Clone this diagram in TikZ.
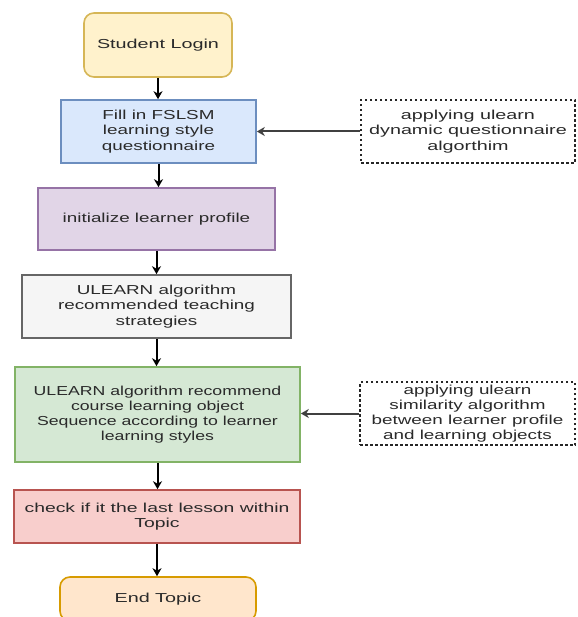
\documentclass[tikz,border=0pt]{standalone}
\usepackage{fontspec}
\setmainfont{Liberation Sans}[FakeStretch=1.45]
\newfontfamily\fnarrow{Liberation Sans}[FakeStretch=1.36]
\newfontfamily\fwide{Liberation Sans}[FakeStretch=1.52]
\newfontfamily\fcheck{Liberation Sans}[FakeStretch=1.49]
\usetikzlibrary{arrows.meta}
\definecolor{txt}{HTML}{2A2A2A}
\definecolor{yfill}{HTML}{FFF2CC}\definecolor{ydraw}{HTML}{D6B656}
\definecolor{bfill}{HTML}{DAE8FC}\definecolor{bdraw}{HTML}{6C8EBF}
\definecolor{pfill}{HTML}{E1D5E7}\definecolor{pdraw}{HTML}{9673A6}
\definecolor{gfill}{HTML}{F5F5F5}\definecolor{gdraw}{HTML}{666666}
\definecolor{grfill}{HTML}{D5E8D4}\definecolor{grdraw}{HTML}{82B366}
\definecolor{rfill}{HTML}{F8CECC}\definecolor{rdraw}{HTML}{B85450}
\definecolor{ofill}{HTML}{FFE6CC}\definecolor{odraw}{HTML}{D79B00}
\tikzset{
  box/.style={draw, line width=1.6pt, align=center, inner sep=0pt, text=txt,
    font=\fontsize{13}{15.5}\selectfont},
  dashbox/.style={box, draw=black!85, dash pattern=on 2.5pt off 2.5pt, fill=white},
  flow/.style={line width=2pt, -{Stealth[length=8pt,width=9pt,inset=2.5pt]}},
  side/.style={line width=2pt, draw=black!75, -{Stealth[length=8pt,width=9pt,inset=2.5pt]}}
}
\begin{document}
\begin{tikzpicture}[x=1pt,y=-1pt]
\useasboundingbox (0,0) rectangle (577,617);
\clip (0,0) rectangle (577,617);
\node[box, fill=yfill, draw=ydraw, rounded corners=10pt, minimum width=148pt, minimum height=64pt, font=\fontsize{13}{15.5}\fwide] (login) at (158,45) {Student Login};
\node[box, fill=bfill, draw=bdraw, minimum width=195pt, minimum height=63pt] (fill) at (158.5,131.5) {Fill in FSLSM\\learning style\\questionnaire};
\node[dashbox, minimum width=214pt, minimum height=63pt, font=\fontsize{13}{15.5}\fwide] (q1) at (468,131.5) {applying ulearn\\dynamic questionnaire\\algorthim};
\node[box, fill=pfill, draw=pdraw, minimum width=237pt, minimum height=62pt] (init) at (156.5,219) {initialize learner profile};
\node[box, fill=gfill, draw=gdraw, minimum width=269pt, minimum height=63pt] (teach) at (156.5,306.5) {ULEARN algorithm\\recommended teaching\\strategies};
\node[box, fill=grfill, draw=grdraw, minimum width=285pt, minimum height=95pt, font=\fontsize{13}{15}\fnarrow] (rec) at (157.5,414.5) {ULEARN algorithm recommend\\course learning object\\Sequence according to learner\\learning styles};
\node[dashbox, minimum width=215pt, minimum height=63pt, font=\fontsize{13}{15}\selectfont] (q2) at (467.5,413.5) {applying ulearn\\similarity algorithm\\between learner profile\\and learning objects};
\node[box, fill=rfill, draw=rdraw, minimum width=286pt, minimum height=53pt, font=\fontsize{13}{15}\fcheck] (check) at (157,516.5) {check if it the last lesson within\\Topic};
\node[box, fill=ofill, draw=odraw, rounded corners=10pt, minimum width=196pt, minimum height=44pt, font=\fontsize{13}{15.5}\fwide] (end) at (158,599) {End Topic};
\draw[flow] (login.south) -- (login.south |- fill.north);
\draw[flow] (fill.south) -- (fill.south |- init.north);
\draw[flow] (init.south) -- (init.south |- teach.north);
\draw[flow] (teach.south) -- (teach.south |- rec.north);
\draw[flow] (rec.south) -- (rec.south |- check.north);
\draw[flow] (check.south) -- (check.south |- end.north);
\draw[side] (q1.west) -- (q1.west -| fill.east);
\draw[side] (q2.west) -- (q2.west -| rec.east);
\end{tikzpicture}
\end{document}
